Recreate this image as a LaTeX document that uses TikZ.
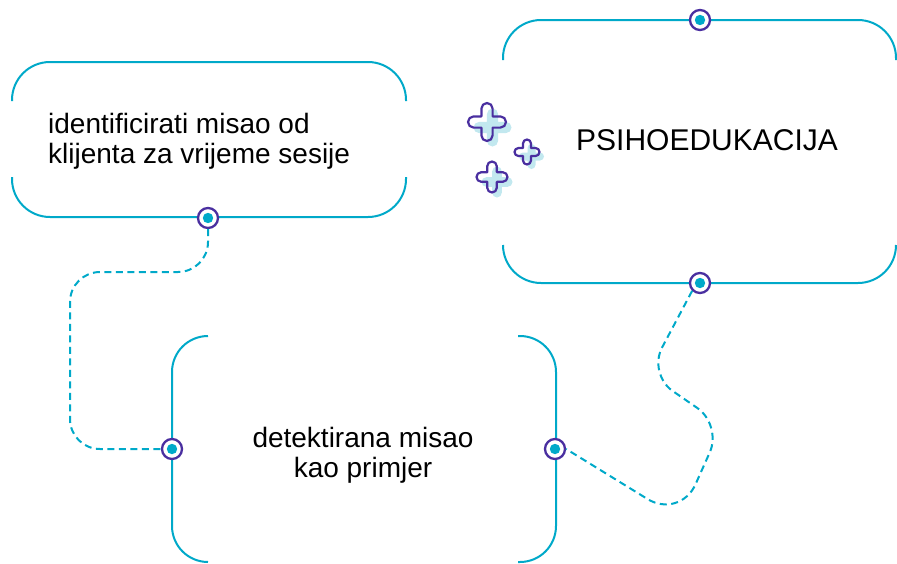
\documentclass[tikz,border=0pt]{standalone}
\usepackage{fontspec}
\setmainfont{Liberation Sans}
\definecolor{lineC}{HTML}{00A9C9}
\definecolor{purpC}{HTML}{4A2FA0}
\definecolor{shadC}{HTML}{C2E8EF}
\newcommand\plusicon[5]{% cx, cy, L, w, shadow offset
  \begin{scope}[shift={(#1,#2)}]
    \fill[shadC, shift={(#5,#5)}]
      (-#4,-#3+#4) arc[start angle=180,end angle=360,radius=#4] -- (#4,-#4) -- (#3-#4,-#4)
      arc[start angle=270,end angle=450,radius=#4] -- (#4,#4) -- (#4,#3-#4)
      arc[start angle=0,end angle=180,radius=#4] -- (-#4,#4) -- (-#3+#4,#4)
      arc[start angle=90,end angle=270,radius=#4] -- (-#4,-#4) -- cycle;
    \draw[purpC, line width=2.2pt, line join=round]
      (-#4,-#3+#4) arc[start angle=180,end angle=360,radius=#4] -- (#4,-#4) -- (#3-#4,-#4)
      arc[start angle=270,end angle=450,radius=#4] -- (#4,#4) -- (#4,#3-#4)
      arc[start angle=0,end angle=180,radius=#4] -- (-#4,#4) -- (-#3+#4,#4)
      arc[start angle=90,end angle=270,radius=#4] -- (-#4,-#4) -- cycle;
  \end{scope}}
\begin{document}
\begin{tikzpicture}[x=1pt,y=-1pt,
  boxline/.style={draw=lineC, line width=2pt, rounded corners=38pt},
  conn/.style={draw=lineC, line width=2pt, dash pattern=on 7pt off 4.5pt, rounded corners=30pt},
  marker/.style={circle, draw=purpC, line width=2.3pt, fill=white, minimum size=20pt, inner sep=0pt,
    path picture={\fill[lineC] (path picture bounding box.center) circle (5.2pt);}},
  lbl/.style={font=\fontsize{28}{30}\selectfont, inner sep=0pt, text=black}]
\useasboundingbox (0,0) rectangle (897,563);

% box 1
\draw[boxline] (12,101) -- (12,62) -- (406,62) -- (406,101);
\draw[boxline] (12,177) -- (12,217) -- (406,217) -- (406,177);
\node[lbl, anchor=west, align=left] (t1) at (48,141) {identificirati misao od\\klijenta za vrijeme sesije};

% box 2
\draw[boxline] (503,60) -- (503,20) -- (896,20) -- (896,60);
\draw[boxline] (503,245) -- (503,283) -- (896,283) -- (896,245);
\node[lbl, font=\fontsize{30}{32}\selectfont] (t2) at (707,140) {PSIHOEDUKACIJA};

% box 3
\draw[boxline, rounded corners=36pt] (208,336) -- (172,336) -- (172,562) -- (208,562);
\draw[boxline, rounded corners=36pt] (518,336) -- (556,336) -- (556,562) -- (518,562);
\node[lbl, align=center] (t3) at (363,455) {detektirana misao\\kao primjer};

% sparkles
\plusicon{487}{122}{19}{5.6}{5.5}
\plusicon{527}{152}{12.5}{4}{4.5}
\plusicon{492}{177}{15.5}{4.8}{5}

% markers
\node[marker] (m1) at (208,218) {};
\node[marker] (m2t) at (700,20) {};
\node[marker] (m2b) at (700,283) {};
\node[marker] (m3l) at (172,449) {};
\node[marker] (m3r) at (555,449) {};

% connectors
\draw[conn] (m1.south) -- (208,272) -- (70,272) -- (70,449) -- (m3l.west);
\draw[conn, rounded corners=30pt] (m2b.south west) -- (648,374) -- (722,425) [rounded corners=38pt] -- (680,519) -- (m3r.east);
\end{tikzpicture}
\end{document}
